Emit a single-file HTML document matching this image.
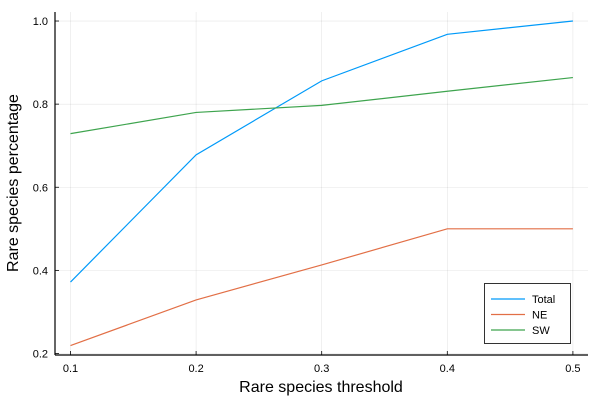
<!DOCTYPE html>
<html><head><meta charset="utf-8"><style>
body{margin:0;background:#fff;}
svg text{font-family:"Liberation Sans","DejaVu Sans",sans-serif;fill:#000;}
</style></head><body>
<svg id="chart" width="600" height="400">
<rect width="600" height="400" fill="#fff"/>
<g id="grid"></g><g id="axes"></g><g id="series"></g><g id="legend"></g>
<text x="321" y="392" font-size="16" text-anchor="middle">Rare species threshold</text>
<text transform="translate(18,183) rotate(-90)" font-size="16" text-anchor="middle">Rare species percentage</text>
</svg>
<script>
const xValues=[0.1,0.2,0.3,0.4,0.5];
const totalValues=[0.372,0.678,0.856,0.968,1.0];
const neValues=[0.219,0.329,0.413,0.5,0.5];
const swValues=[0.729,0.780,0.797,0.831,0.864];
const xTicks=[0.1,0.2,0.3,0.4,0.5];
const yTicks=[0.2,0.4,0.6,0.8,1.0];
const seriesNames=["Total","NE","SW"];
const ns="http://www.w3.org/2000/svg";
const X0=55,X1=588,Y0=355,Y1=12;
const sx=v=>70.5+(v-0.1)*1256;
const sy=v=>353.5-(v-0.2)*415.6;
function mk(tag,attrs,parent){const e=document.createElementNS(ns,tag);for(const k in attrs)e.setAttribute(k,attrs[k]);parent.appendChild(e);return e;}
const grid=document.getElementById('grid'),axes=document.getElementById('axes'),ser=document.getElementById('series'),leg=document.getElementById('legend');
xTicks.forEach(t=>{
 const g=mk('line',{x1:sx(t),x2:sx(t),y1:Y1,y2:Y0,stroke:'#000','stroke-opacity':0.1,'stroke-width':0.6},grid);
 
 
 const tk=mk('line',{x1:sx(t),x2:sx(t),y1:Y0,y2:Y0-4,stroke:'#000','stroke-width':0.8},axes);
 
 
 const tx=mk('text',{x:sx(t),y:372,'font-size':11,'text-anchor':'middle'},axes);tx.textContent=t.toFixed(1);
 
 
});
yTicks.forEach(t=>{
 const g=mk('line',{x1:X0,x2:X1,y1:sy(t),y2:sy(t),stroke:'#000','stroke-opacity':0.1,'stroke-width':0.6},grid);
 
 
 const tk=mk('line',{x1:X0,x2:X0+4,y1:sy(t),y2:sy(t),stroke:'#000','stroke-width':0.8},axes);
 
 
 const tx=mk('text',{x:48,y:sy(t)+4,'font-size':11,'text-anchor':'end'},axes);tx.textContent=t.toFixed(1);
 
 
});
const xa=mk('line',{x1:X0,x2:X1,y1:Y0,y2:Y0,stroke:'#000','stroke-width':1.2},axes);


const ya=mk('line',{x1:X0,x2:X0,y1:Y0,y2:Y1,stroke:'#000','stroke-width':1.2},axes);


const colors=['#009af9','#e26f46','#3ea44e'];
[totalValues,neValues,swValues].forEach((vals,i)=>{
 const p=mk('polyline',{points:vals.map((v,j)=>sx(xValues[j])+','+sy(v)).join(' '),fill:'none',stroke:colors[i],'stroke-width':1.2},ser);
 
 
});
const box=mk('rect',{x:484.5,y:283.5,width:86,height:60,fill:'#fff',stroke:'#000','stroke-width':0.8},leg);


seriesNames.forEach((n,i)=>{
 const y=299+i*15.5;
 const l=mk('line',{x1:491,x2:525,y1:y,y2:y,stroke:colors[i],'stroke-width':1.2},leg);
 
 
 const t=mk('text',{x:532,y:y+4,'font-size':11},leg);t.textContent=n;
 
 
});
</script>
</body></html>
